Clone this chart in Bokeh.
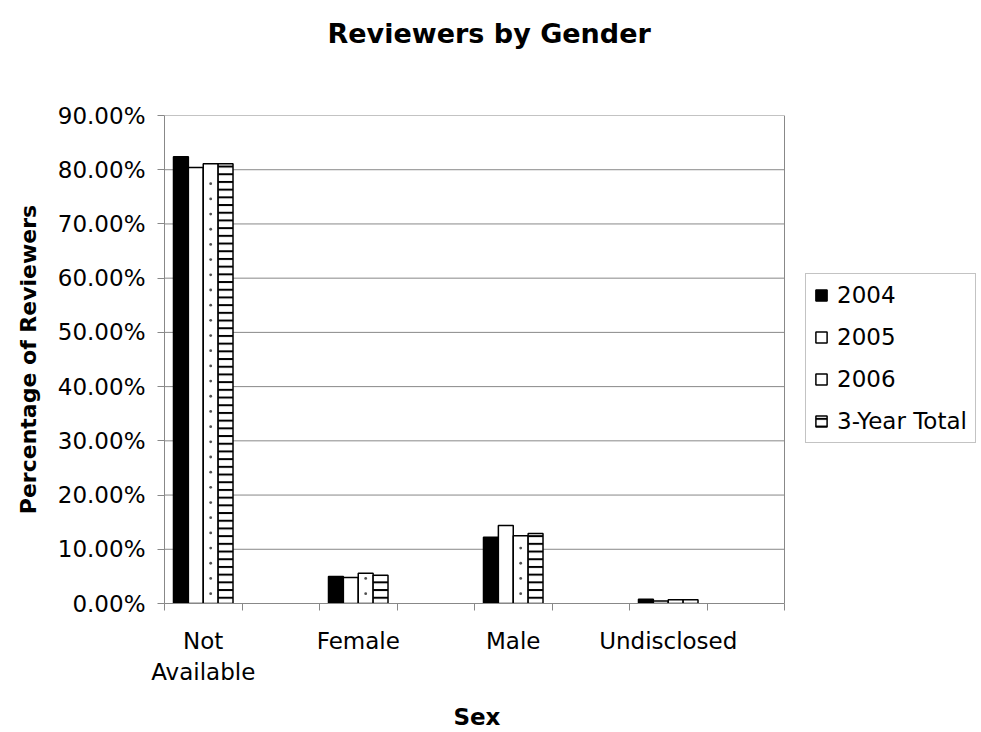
import numpy as np
from bokeh.plotting import figure
from bokeh.models import (Range1d, FixedTicker, NumeralTickFormatter, Legend,
                          LegendItem, ColumnDataSource, Title)
from bokeh.embed import file_html
from bokeh.resources import INLINE

# ---- data -------------------------------------------------------------
categories = ["Not\nAvailable", "Female", "Male", "Undisclosed"]
series_names = ["2004", "2005", "2006", "3-Year Total"]
pct_2004 = [0.824, 0.050, 0.122, 0.008]
pct_2005 = [0.804, 0.048, 0.144, 0.0045]
pct_2006 = [0.811, 0.056, 0.125, 0.007]
pct_total = [0.811, 0.052, 0.129, 0.007]
y_ticks = [0.0, 0.1, 0.2, 0.3, 0.4, 0.5, 0.6, 0.7, 0.8, 0.9]

FONT = "DejaVu Sans"
GRAY = "#888888"

# each category sits in every other slot; the slots in between stay empty
n_slots = 2 * len(categories)
cat_pos = [2 * i for i in range(len(categories))]
slot_edges = [i - 0.5 for i in range(n_slots + 1)]
x_lo, x_hi = slot_edges[0], slot_edges[-1]
bar_w = 0.192
offsets = [-1.5 * bar_w, -0.5 * bar_w, 0.5 * bar_w, 1.5 * bar_w]

# the canvas runs on past the plotting box so the legend can sit to its right
PLOT_PX = 620          # width of the plotting box in pixels
FRAME_PX = 981 - 164   # width of the whole data frame in pixels
x_end = x_lo + (x_hi - x_lo) * FRAME_PX / PLOT_PX

p = figure(width=981, height=732, title=None,
           x_range=Range1d(x_lo, x_end), y_range=Range1d(0, 0.9),
           output_backend="svg", toolbar_location=None,
           min_border_left=164, min_border_right=0,
           min_border_top=115, min_border_bottom=129)
p.background_fill_color = "white"
p.border_fill_color = "white"
p.outline_line_color = None

# horizontal gridlines and right edge of the plotting box
p.segment(x0=x_lo, x1=x_hi, y0=y_ticks, y1=y_ticks,
          line_color=GRAY, line_width=1)
p.segment(x0=[x_hi], x1=[x_hi], y0=[y_ticks[0]], y1=[y_ticks[-1]],
          line_color=GRAY, line_width=1)

styles = [
    dict(fill_color="black"),
    dict(fill_color="white"),
    dict(fill_color="white"),
    dict(fill_color="white", hatch_pattern="horizontal_line", hatch_scale=7.7,
         hatch_weight=2, hatch_color="black"),
]
series_vals = [pct_2004, pct_2005, pct_2006, pct_total]

items = []
for name, vals, off, st in zip(series_names, series_vals, offsets, styles):
    src = ColumnDataSource(dict(x=[c + off for c in cat_pos], top=vals))
    r = p.vbar(x="x", top="top", width=bar_w, bottom=0, source=src,
               line_color="black", line_width=1.5, **st)
    items.append(LegendItem(label=name, renderers=[r]))

# sparse dotted fill of the 2006 bars: one column of small dots per bar
DOT_STEP = 0.028
dot_x, dot_y = [], []
for c, top in zip(cat_pos, pct_2006):
    ys = np.arange(DOT_STEP * 0.65, top - DOT_STEP * 0.35, DOT_STEP)
    dot_x += [c + offsets[2]] * len(ys)
    dot_y += list(ys)
p.scatter(x=dot_x, y=dot_y, size=2.8, marker="circle",
          fill_color="#505050", line_color=None)

# ---- axes -------------------------------------------------------------
xa = p.xaxis[0]
xa.bounds = (x_lo, x_hi)
xa.ticker = FixedTicker(ticks=cat_pos, minor_ticks=slot_edges)
xa.major_label_overrides = {int(c): lab for c, lab in zip(cat_pos, categories)}
xa.major_tick_out = 0
xa.major_tick_in = 0
xa.minor_tick_out = 7
xa.minor_tick_in = 0
xa.minor_tick_line_color = GRAY
xa.axis_line_color = GRAY
xa.major_label_text_font = FONT
xa.major_label_text_font_size = "23px"
xa.major_label_text_color = "black"
xa.major_label_standoff = 17
# the axis label is centred on the whole frame; trailing no-break spaces
# pull the visible word back to the middle of the plotting box
xa.axis_label = "Sex" + "\u00a0" * 24
xa.axis_label_text_font = FONT
xa.axis_label_text_font_size = "23px"
xa.axis_label_text_font_style = "bold"
xa.axis_label_text_color = "black"
xa.axis_label_standoff = 16

ya = p.yaxis[0]
ya.ticker = FixedTicker(ticks=y_ticks)
ya.formatter = NumeralTickFormatter(format="0.00%")
ya.major_tick_out = 7
ya.major_tick_in = 0
ya.minor_tick_out = 0
ya.minor_tick_in = 0
ya.major_tick_line_color = GRAY
ya.axis_line_color = GRAY
ya.major_label_text_font = FONT
ya.major_label_text_font_size = "23px"
ya.major_label_text_color = "black"
ya.major_label_standoff = 12
ya.axis_label = "Percentage of Reviewers"
ya.axis_label_text_font = FONT
ya.axis_label_text_font_size = "22px"
ya.axis_label_text_font_style = "bold"
ya.axis_label_text_color = "black"
ya.axis_label_standoff = 14

p.xgrid.grid_line_color = None
p.ygrid.grid_line_color = None

# ---- title (a blank spacer sits between it and the plot area) ----------
p.add_layout(Title(text=" ", text_font_size="1px", standoff=60), "above")
p.add_layout(Title(text="Reviewers by Gender", align="left", offset=163,
                   vertical_align="bottom", standoff=8,
                   text_font=FONT, text_font_size="27px",
                   text_font_style="bold", text_color="black"), "above")

# ---- legend, to the right of the plotting box ----------------------------
legend = Legend(items=items, location=(PLOT_PX + 21, 160),
                label_text_font=FONT, label_text_font_size="23px",
                label_text_color="black",
                glyph_width=14, glyph_height=14, label_standoff=9,
                padding=8, spacing=16, label_height=22,
                border_line_color=GRAY, border_line_width=1,
                background_fill_color="white", background_fill_alpha=1.0)
p.add_layout(legend, "center")

open("out.html", "w").write(file_html(p, INLINE))
